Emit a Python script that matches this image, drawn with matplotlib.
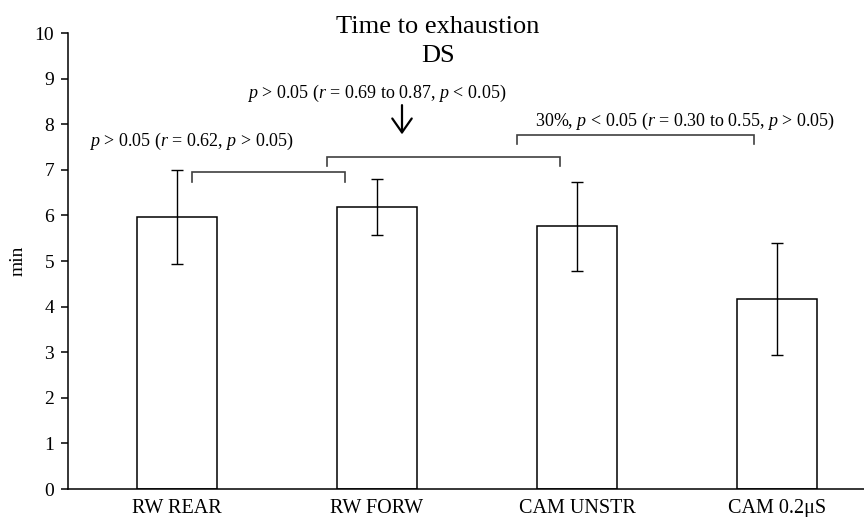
import matplotlib
matplotlib.use('Agg')
from matplotlib import pyplot as plt

plt.rcParams['font.family'] = ['Liberation Serif', 'DejaVu Serif']
plt.rcParams['mathtext.fontset'] = 'custom'
plt.rcParams['mathtext.rm'] = 'Liberation Serif'
plt.rcParams['mathtext.it'] = 'Liberation Serif:italic'

# data
categories = ['RW REAR', 'RW FORW', 'CAM UNSTR', 'CAM 0.2\u03bcS']
means = [5.97, 6.19, 5.76, 4.16]
sds = [1.03, 0.62, 0.98, 1.23]

# comparison brackets: (x start, x end, y line, y tick end)
brackets = [(0.075, 0.84, 6.95, 6.74),
            (0.75, 1.915, 7.29, 7.09),
            (1.70, 2.885, 7.76, 7.57)]
notes = [(0.07, 7.62, r'$p$ > 0.05 ($r$ = 0.62, $p$ > 0.05)'),
         (1.0, 8.67, r'$p$ > 0.05 ($r$ = 0.69 to 0.87, $p$ < 0.05)'),
         (2.54, 8.06, r'30%, $p$ < 0.05 ($r$ = 0.30 to 0.55, $p$ > 0.05)')]

fig = plt.figure(figsize=(8.64, 5.17), dpi=100)
ax = fig.add_axes([0.0787, 0.054, 0.9213, 0.882])

x = list(range(len(categories)))
ax.bar(x, means, width=0.4, color='white', edgecolor='black', linewidth=1.1)
ax.errorbar(x, means, yerr=sds, fmt='none', ecolor='black', elinewidth=1.0,
            capsize=4.5, capthick=1.0)

for x0, x1, y, yt in brackets:
    ax.plot([x0, x0, x1, x1], [yt, y, y, yt], color='#404040', lw=1.2,
            solid_joinstyle='miter')

for xt, yt, s in notes:
    ax.text(xt, yt, s, ha='center', va='center', fontsize=13)

# arrow pointing at the middle comparison
ax.annotate('', xy=(1.125, 7.78), xytext=(1.125, 8.42),
            arrowprops=dict(arrowstyle='->, head_length=0.5, head_width=0.35',
                            color='black', lw=1.6, mutation_scale=20,
                            shrinkA=0, shrinkB=0))

ax.set_xlim(-0.545, 3.435)
ax.set_ylim(0, 10)
ax.set_yticks(range(0, 11))
ax.set_xticks(x)
ax.set_xticklabels(categories, fontsize=14.5)
ax.tick_params(axis='x', length=0, pad=7)
ax.tick_params(axis='y', direction='out', length=5, width=1.1, labelsize=14, pad=5)
ax.spines['top'].set_visible(False)
ax.spines['right'].set_visible(False)
ax.spines['left'].set_linewidth(1.1)
ax.spines['bottom'].set_linewidth(1.1)
ax.set_ylabel('min', fontsize=14, labelpad=6)

fig.text(0.507, 0.948, 'Time to exhaustion', ha='center', va='center', fontsize=19)
fig.text(0.507, 0.891, 'DS', ha='center', va='center', fontsize=19)

fig.savefig('out.png', dpi=100)
